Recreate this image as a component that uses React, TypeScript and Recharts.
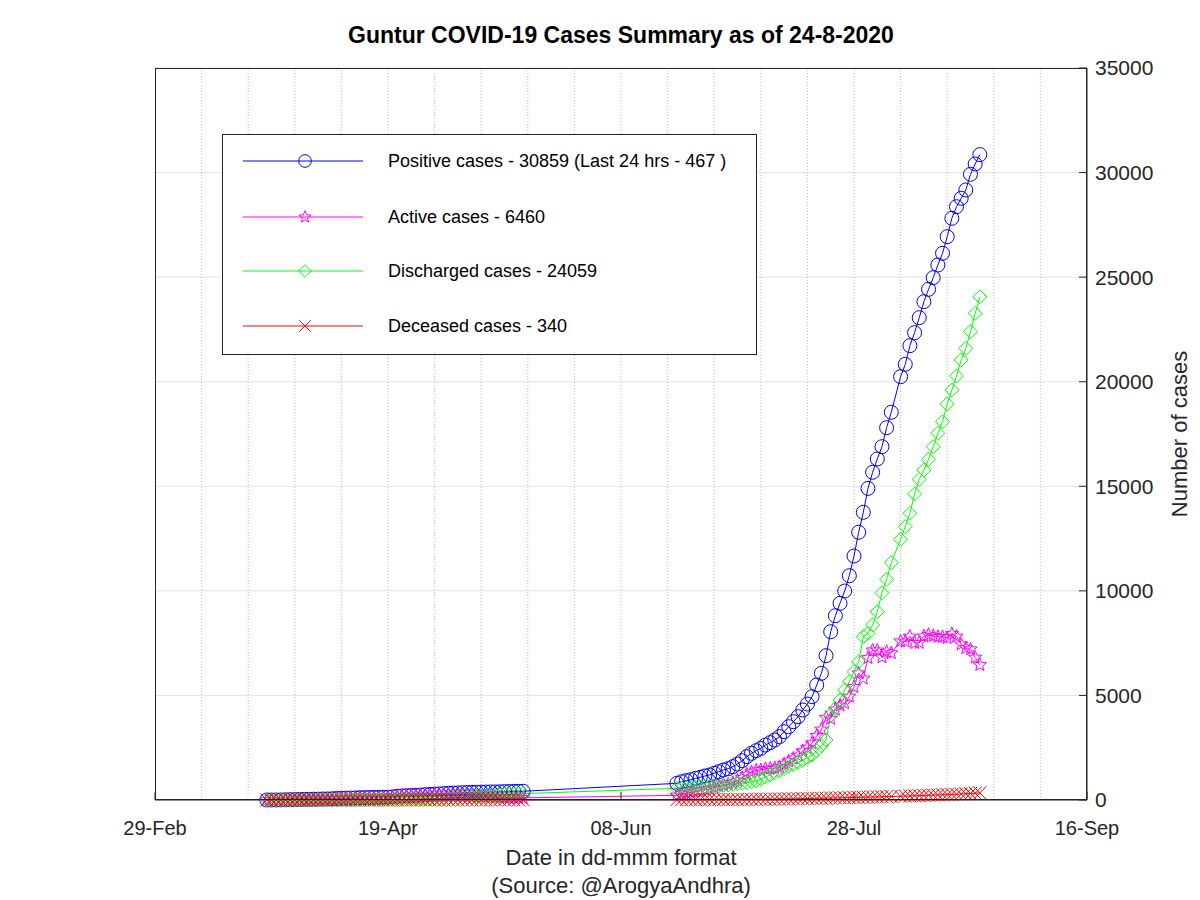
import React from 'react';
import { LineChart, Line, XAxis, YAxis, CartesianGrid, Legend, ReferenceLine } from 'recharts';

// days counted from 29-Feb-2020 (day 0)
const days = [
  24, 25, 26, 27, 28, 29, 30, 31, 32, 33, 34, 35, 36, 37, 38, 39, 40, 41, 42, 43,
  44, 45, 46, 47, 48, 49, 50, 51, 52, 53, 54, 55, 56, 57, 58, 59, 60, 61, 62, 63,
  64, 65, 66, 67, 68, 69, 70, 71, 72, 73, 74, 75, 76, 77, 78, 79,
  112, 113, 114, 115, 116, 117, 118, 119, 120, 121, 122, 123, 124, 125, 126, 127,
  128, 129, 130, 131, 132, 133, 134, 135, 136, 137, 138, 139, 140, 141, 142, 143,
  144, 145, 146, 147, 148, 149, 150, 151, 152, 153, 154, 155, 156, 157, 158,
  160, 161, 162, 163, 164, 165, 166, 167, 168, 169, 170, 171, 172, 173, 174, 175,
  176, 177,
];

const positive = [
  1, 1, 2, 4, 9, 15, 20, 26, 30, 33, 37, 41, 49, 51, 58, 75, 82, 90, 93, 97,
  109, 114, 118, 122, 126, 129, 135, 149, 177, 195, 206, 214, 225, 237, 254, 266, 283, 291, 306, 319,
  330, 339, 347, 359, 365, 372, 376, 381, 385, 387, 392, 399, 405, 412, 414, 417,
  797, 877, 924, 970, 1036, 1084, 1148, 1195, 1275, 1355, 1434, 1498, 1594, 1721, 1881, 2072,
  2232, 2359, 2471, 2630, 2742, 2869, 3029, 3266, 3505, 3745, 3985, 4303, 4590, 4940, 5499, 6058,
  6900, 8047, 8812, 9405, 9993, 10725, 11667, 12800, 13756, 14900, 15669, 16305, 16893, 17802, 18537,
  20241, 20833, 21723, 22345, 23062, 23826, 24418, 24975, 25581, 26140, 26934, 27813, 28369, 28770, 29167, 29917,
  30410, 30859,
];

const active = [
  1, 1, 2, 4, 9, 15, 20, 26, 29, 32, 35, 39, 46, 48, 54, 71, 77, 85, 87, 90,
  101, 105, 105, 109, 111, 111, 115, 127, 152, 168, 176, 178, 184, 189, 198, 202, 210, 209, 216, 219,
  220, 215, 211, 211, 204, 197, 188, 178, 167, 154, 144, 135, 127, 120, 110, 103,
  223, 293, 329, 364, 420, 452, 500, 531, 595, 654, 712, 755, 825, 925, 1054, 1213,
  1332, 1417, 1436, 1493, 1502, 1526, 1583, 1716, 1852, 1988, 2125, 2338, 2500, 2716, 3070, 3374,
  3942, 3888, 4329, 4519, 4623, 4952, 5411, 6060, 5816, 6794, 7160, 7154, 6828, 7090, 7024,
  7595, 7576, 7821, 7511, 7518, 7829, 7902, 7848, 7807, 7801, 7741, 7942, 7819, 7443, 7271, 7212,
  6813, 6460,
];

const discharged = [
  0, 0, 0, 0, 0, 0, 0, 0, 0, 0, 0, 0, 0, 0, 0, 0, 1, 1, 2, 3,
  4, 5, 8, 8, 10, 12, 14, 16, 18, 20, 23, 28, 33, 40, 48, 56, 65, 74, 82, 92,
  102, 116, 128, 140, 153, 167, 180, 195, 210, 225, 240, 256, 270, 284, 296, 306,
  560, 570, 580, 590, 600, 615, 630, 645, 660, 680, 700, 720, 745, 770, 800, 830,
  870, 910, 1000, 1100, 1200, 1300, 1400, 1500, 1600, 1700, 1800, 1900, 2020, 2150, 2350, 2600,
  2869, 4064, 4383, 4781, 5260, 5658, 6136, 6614, 7809, 7970, 8368, 9004, 9912, 10553, 11347,
  12466, 13070, 13708, 14632, 15334, 15779, 16290, 16893, 17532, 18089, 18935, 19604, 20273, 21039, 21596, 22393,
  23271, 24059,
];

const deceased = [
  0, 0, 0, 0, 0, 0, 0, 0, 1, 1, 2, 2, 3, 3, 4, 4, 4, 4, 4, 4,
  4, 4, 5, 5, 5, 6, 6, 6, 7, 7, 7, 8, 8, 8, 8, 8, 8, 8, 8, 8,
  8, 8, 8, 8, 8, 8, 8, 8, 8, 8, 8, 8, 8, 8, 8, 8,
  14, 14, 15, 16, 16, 17, 18, 19, 20, 21, 22, 23, 24, 26, 27, 29,
  30, 32, 35, 37, 40, 43, 46, 50, 53, 57, 60, 65, 70, 74, 79, 84,
  89, 95, 100, 105, 110, 115, 120, 126, 131, 136, 141, 147, 153, 159, 166,
  180, 187, 194, 202, 210, 218, 226, 234, 242, 250, 258, 267, 277, 288, 300, 312,
  326, 340,
];

const xMajorTicks = [0, 50, 100, 150, 200];
const xTickLabels = ['29-Feb', '19-Apr', '08-Jun', '28-Jul', '16-Sep'];
const xMinorGrid = [10, 20, 30, 40, 50, 60, 70, 80, 90, 100, 110, 120, 130, 140, 150, 160, 170, 180, 190];
const yTicks = [0, 5000, 10000, 15000, 20000, 25000, 30000, 35000];

const series = [
  { key: 'positive', name: 'Positive cases - 30859 (Last 24 hrs - 467 )', color: '#0000ff', marker: 'circle' },
  { key: 'active', name: 'Active cases - 6460', color: '#ff00ff', marker: 'star' },
  { key: 'discharged', name: 'Discharged cases - 24059', color: '#00ff00', marker: 'diamond' },
  { key: 'deceased', name: 'Deceased cases - 340', color: '#ff0000', marker: 'cross' },
];

const data = days.map((d, i) => ({
  day: d,
  positive: positive[i],
  active: active[i],
  discharged: discharged[i],
  deceased: deceased[i],
}));

const FONT = '"Liberation Sans", Arial, Helvetica, sans-serif';

function starPath(cx: number, cy: number, R: number, r: number) {
  let p = '';
  for (let k = 0; k < 10; k++) {
    const rad = k % 2 === 0 ? R : r;
    const a = -Math.PI / 2 + (k * Math.PI) / 5;
    p += (k === 0 ? 'M' : 'L') + (cx + rad * Math.cos(a)).toFixed(2) + ',' + (cy + rad * Math.sin(a)).toFixed(2);
  }
  return p + 'Z';
}

function Marker({ type, cx, cy, color, s = 1 }: { type: string; cx: number; cy: number; color: string; s?: number }) {
  if (cx == null || cy == null) return null;
  if (type === 'circle') return <circle cx={cx} cy={cy} r={7 * s} fill="none" stroke={color} strokeWidth={1} />;
  if (type === 'star') return <path d={starPath(cx, cy, 7 * s, 3 * s)} fill="none" stroke={color} strokeWidth={1} />;
  const h = 7 * s;
  if (type === 'diamond')
    return <path d={`M${cx},${cy - h}L${cx + h},${cy}L${cx},${cy + h}L${cx - h},${cy}Z`} fill="none" stroke={color} strokeWidth={1} />;
  const c = 6.5 * s;
  return <path d={`M${cx - c},${cy - c}L${cx + c},${cy + c}M${cx - c},${cy + c}L${cx + c},${cy - c}`} fill="none" stroke={color} strokeWidth={1} />;
}

const LegendBox = () => (
  <svg width={535} height={221} style={{ display: 'block' }}>
    <rect x={0.5} y={0.5} width={534} height={220} fill="#ffffff" stroke="#262626" strokeWidth={1} />
    {series.map((s, i) => {
      const y = [27, 83, 137, 192][i];
      return (
        <g key={s.key}>
          <line x1={21} x2={141} y1={y} y2={y} stroke={s.color} strokeWidth={1} />
          <Marker type={s.marker} cx={83} cy={y} color={s.color} s={0.9} />
          <text x={166} y={y} dy="0.35em" fontSize={18} fontFamily={FONT} fill="#000000">
            {s.name}
          </text>
        </g>
      );
    })}
  </svg>
);

export default function App() {
  return (
    <div style={{ position: 'absolute', left: 0, top: 0, width: 1200, height: 900, background: '#ffffff', fontFamily: FONT }}>
      <div style={{ position: 'absolute', left: 155, top: 21, width: 932, textAlign: 'center', fontSize: 23, fontWeight: 'bold', lineHeight: '28px', color: '#000' }}>
        Guntur COVID-19 Cases Summary as of 24-8-2020
      </div>
      <LineChart width={1200} height={900} data={data} margin={{ top: 68, right: 13, left: 155, bottom: 40 }}>
        <CartesianGrid horizontal={true} vertical={false} stroke="#e3e3e3" />
        {xMinorGrid.map((d) => (
          <ReferenceLine key={d} x={d} stroke="#bdbdbd" strokeDasharray="1 2" />
        ))}
        <XAxis
          dataKey="day"
          type="number"
          domain={[0, 200]}
          ticks={xMajorTicks}
          interval={0}
          height={60}
          tickSize={-8}
          tickMargin={29}
          tickFormatter={(v: number) => xTickLabels[xMajorTicks.indexOf(v)] ?? ''}
          tick={{ fill: '#262626', fontSize: 20, fontFamily: FONT }}
          axisLine={{ stroke: '#262626' }}
          tickLine={{ stroke: '#262626' }}
        />
        <YAxis
          orientation="right"
          type="number"
          domain={[0, 35000]}
          ticks={yTicks}
          interval={0}
          width={100}
          tickSize={-8}
          tickMargin={16}
          tick={{ fill: '#262626', fontSize: 21, fontFamily: FONT }}
          axisLine={{ stroke: '#262626' }}
          tickLine={{ stroke: '#262626' }}
        />
        <Legend
          layout="vertical"
          align="center"
          verticalAlign="middle"
          wrapperStyle={{ position: 'absolute', left: 222, top: 134, width: 535, height: 221 }}
          content={() => <LegendBox />}
        />
        {series.map((s) => (
          <Line
            key={s.key}
            dataKey={s.key}
            name={s.name}
            type="linear"
            stroke={s.color}
            strokeWidth={1}
            isAnimationActive={false}
            dot={(p: any) => <Marker key={`${s.key}-${p.index}`} type={s.marker} cx={p.cx} cy={p.cy} color={s.color} />}
            activeDot={false}
          />
        ))}
      </LineChart>
      <div style={{ position: 'absolute', left: 155, top: 68, width: 932, height: 732, border: '1px solid #262626', boxSizing: 'border-box', pointerEvents: 'none' }} />
      <div style={{ position: 'absolute', left: 155, top: 844, width: 932, textAlign: 'center', fontSize: 22, lineHeight: '28px', color: '#262626' }}>
        <div>Date in dd-mmm format</div>
        <div>(Source: @ArogyaAndhra)</div>
      </div>
      <div
        style={{
          position: 'absolute',
          left: 1180,
          top: 434,
          transform: 'translate(-50%, -50%) rotate(-90deg)',
          fontSize: 22,
          whiteSpace: 'nowrap',
          color: '#262626',
        }}
      >
        Number of cases
      </div>
    </div>
  );
}
